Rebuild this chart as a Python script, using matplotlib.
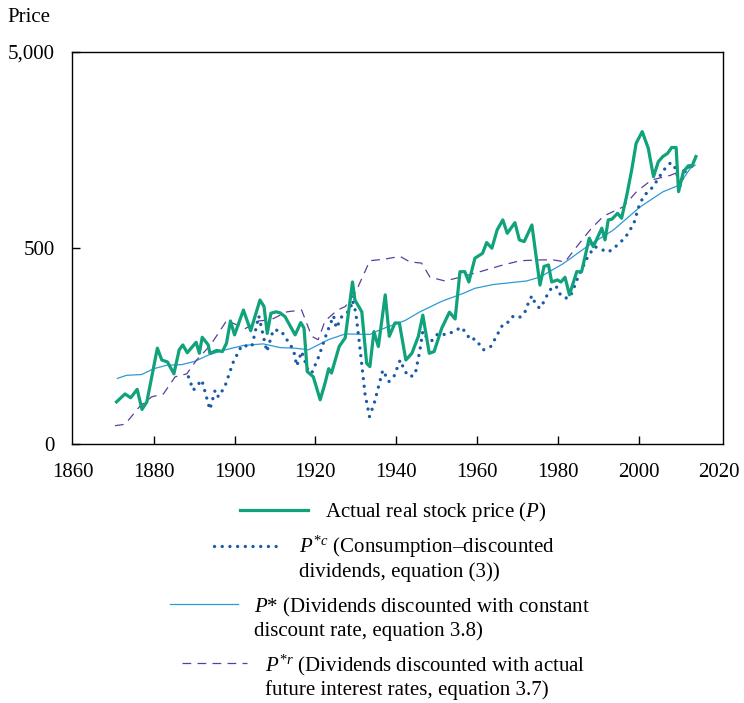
import numpy as np
import matplotlib
matplotlib.use("Agg")
import matplotlib.pyplot as plt
from matplotlib.lines import Line2D

plt.rcParams['font.family'] = ['Liberation Serif', 'DejaVu Serif']
plt.rcParams['mathtext.fontset'] = 'custom'
plt.rcParams['mathtext.rm'] = 'Liberation Serif'
plt.rcParams['mathtext.it'] = 'Liberation Serif:italic'

# actual real stock price P
p_year = [1870.8, 1872.9, 1874.3, 1875.9, 1877.1, 1878.3, 1880.9, 1882.0, 1883.4, 1885.0,
          1886.3, 1887.2, 1888.3, 1890.5, 1891.3, 1892.0, 1893.5, 1893.9, 1895.6, 1897.0,
          1898.0, 1899.0, 1900.0, 1902.2, 1904.0, 1906.3, 1907.3, 1908.1, 1909.0, 1910.3,
          1911.3, 1912.5, 1915.0, 1916.4, 1917.2, 1918.0, 1919.5, 1921.2, 1922.4, 1923.3,
          1924.0, 1925.9, 1927.4, 1929.2, 1929.8, 1931.5, 1932.7, 1933.5, 1934.5, 1935.6,
          1937.3, 1938.3, 1939.7, 1940.8, 1942.4, 1943.9, 1945.5, 1946.6, 1948.2, 1949.4,
          1951.3, 1953.2, 1954.6, 1955.8, 1957.0, 1958.0, 1959.5, 1961.4, 1962.4, 1963.7,
          1965.0, 1966.4, 1967.5, 1969.4, 1970.5, 1971.7, 1973.6, 1975.6, 1976.6, 1977.7,
          1978.5, 1979.9, 1980.8, 1981.8, 1982.9, 1984.7, 1985.9, 1987.8, 1988.8, 1990.9,
          1991.7, 1992.5, 1993.4, 1994.8, 1995.8, 1997.1, 1998.3, 1999.4, 2000.9, 2002.4,
          2003.7, 2004.9, 2006.0, 2007.2, 2008.2, 2009.3, 2009.9, 2011.1, 2012.3, 2013.2,
          2014.2]
p_val = [82, 90, 86, 95, 75, 82, 154, 134, 131, 114,
         151, 160, 146, 165, 145, 175, 160, 145, 150, 148,
         163, 212, 180, 241, 189, 271, 251, 183, 232, 236,
         233, 223, 180, 208, 195, 117, 110, 84, 102, 121,
         115, 157, 174, 335, 271, 236, 129, 124, 187, 157,
         288, 177, 207, 207, 134, 145, 177, 227, 145, 148,
         195, 235, 217, 378, 378, 335, 443, 469, 532, 498,
         617, 694, 593, 672, 549, 538, 654, 323, 402, 409,
         335, 343, 335, 354, 288, 378, 378, 560, 507, 630,
         549, 694, 700, 750, 708, 930, 1247, 1706, 1956, 1610,
         1153, 1375, 1460, 1517, 1624, 1624, 967, 1223, 1310, 1300,
         1460]

# P*c consumption-discounted dividends
pc_year = [1888.6, 1889.8, 1891.9, 1893.9, 1895.2, 1896.0, 1897.6, 1899.7, 1901.8, 1904.3,
           1906.0, 1908.0, 1909.6, 1911.5, 1914.6, 1915.4, 1916.6, 1918.3, 1919.1, 1920.7,
           1922.8, 1924.5, 1925.2, 1926.5, 1928.6, 1929.2, 1930.0, 1931.0, 1932.3, 1933.4,
           1934.6, 1936.7, 1938.2, 1939.5, 1941.0, 1942.2, 1943.4, 1944.7, 1945.9, 1946.6,
           1947.6, 1948.8, 1950.4, 1952.5, 1955.0, 1956.2, 1957.5, 1958.5, 1959.4, 1960.3,
           1961.6, 1963.4, 1964.5, 1965.5, 1966.5, 1968.0, 1969.0, 1970.7, 1971.9, 1972.7,
           1973.6, 1974.4, 1975.5, 1976.5, 1977.4, 1978.4, 1979.6, 1980.4, 1981.8, 1983.0,
           1983.9, 1984.5, 1985.3, 1986.2, 1987.0, 1988.0, 1989.2, 1991.1, 1992.5, 1993.9,
           1995.4, 1996.7, 1997.9, 1998.9, 2000.0, 2000.8, 2001.9, 2003.3, 2004.5, 2005.6,
           2006.8, 2008.0, 2009.3, 2010.1, 2010.7, 2011.5, 2012.8]
pc_val = [110, 94, 106, 75, 94, 87, 98, 131, 159, 157,
          225, 148, 191, 189, 151, 125, 148, 117, 115, 137,
          183, 225, 195, 222, 241, 270, 235, 157, 90, 69,
          81, 119, 104, 111, 134, 117, 110, 113, 151, 188,
          174, 168, 183, 180, 191, 197, 181, 169, 172, 164,
          151, 157, 172, 188, 205, 210, 225, 222, 236, 261,
          285, 261, 246, 264, 288, 311, 319, 293, 277, 280,
          308, 335, 364, 398, 434, 469, 507, 488, 476, 498,
          532, 564, 617, 672, 805, 877, 946, 1010, 1095, 1190,
          1290, 1360, 1260, 1010, 1109, 1223, 1310]

# P* constant discount rate
ps_year = [1871.0, 1873.3, 1877.0, 1880.0, 1883.2, 1887.0, 1890.2, 1893.5, 1897.2, 1902.2,
           1907.1, 1911.3, 1915.0, 1918.3, 1923.2, 1927.4, 1933.5, 1936.0, 1942.2, 1945.9,
           1951.3, 1956.6, 1959.5, 1964.0, 1972.3, 1975.6, 1981.4, 1987.2, 1993.8, 2000.4,
           2006.1, 2009.9, 2012.8, 2014.0]
ps_val = [108, 112, 113, 121, 126, 127, 132, 142, 150, 159,
          162, 155, 154, 151, 170, 182, 181, 191, 213, 236,
          267, 293, 311, 325, 339, 355, 416, 507, 617, 809,
          967, 1040, 1270, 1320]

# P*r actual future interest rates
pr_year = [1870.4, 1872.9, 1876.6, 1879.5, 1882.4, 1885.3, 1888.2, 1890.6, 1894.0, 1898.0,
           1900.0, 1902.5, 1906.0, 1909.0, 1913.0, 1916.6, 1919.1, 1920.7, 1922.4, 1925.5,
           1927.4, 1930.0, 1931.0, 1933.5, 1936.8, 1941.0, 1943.4, 1946.3, 1948.4, 1952.1,
           1955.8, 1960.8, 1965.7, 1970.7, 1975.6, 1978.9, 1981.8, 1984.7, 1988.0, 1991.3,
           1996.2, 1999.5, 2003.2, 2007.8, 2012.9, 2014.0]
pr_val = [62, 63, 78, 87, 90, 110, 114, 134, 159, 212,
          205, 193, 212, 215, 236, 241, 177, 170, 212, 241,
          251, 297, 331, 430, 437, 452, 424, 418, 354, 339,
          354, 378, 405, 430, 434, 434, 424, 507, 617, 725,
          809, 967, 1109, 1170, 1290, 1300]

green = '#10a27a'
dark_blue = '#1b5aa6'
light_blue = '#2d9ad6'
purple = '#5b3e9e'
dots = (0, (0.01, 2.3))

W, H = 744, 703
fig = plt.figure(figsize=(W / 100, H / 100), dpi=100)
ax = fig.add_axes([71.7 / W, 1 - 444 / H, (723 - 71.7) / W, (444 - 51.7) / H])

ax.plot(ps_year, ps_val, color=light_blue, lw=0.9)
ax.plot(pr_year, pr_val, color=purple, lw=0.9, linestyle=(0, (7, 5)))
ax.plot(pc_year, pc_val, color=dark_blue, lw=2.4, linestyle=dots,
        dash_capstyle='round')
ax.plot(p_year, p_val, color=green, lw=2.3)

ax.set_yscale('log')
ax.set_ylim(50, 5000)
ax.set_xlim(1859.7, 2020.9)
ax.set_yticks([50, 500, 5000])
ax.set_yticklabels(['0', '500', '5,000'])
ax.yaxis.set_minor_locator(matplotlib.ticker.NullLocator())
ax.set_xticks(range(1860, 2021, 20))
ax.tick_params(direction='in', length=6, width=1, labelsize=15, pad=12)
ax.tick_params(axis='x', pad=14)
xt = ax.xaxis.get_major_ticks()
xt[0].tick1line.set_visible(False)
xt[-1].tick1line.set_visible(False)
for s in ax.spines.values():
    s.set_linewidth(1.0)

fig.text(7 / W, 1 - 17 / H, 'Price', fontsize=15, va='center', ha='left')

# legend drawn below the plot
def handle(x0, x1, y, **kw):
    fig.add_artist(Line2D([x0 / W, x1 / W], [1 - y / H, 1 - y / H], **kw))

def label(x, y, s):
    fig.text(x / W, 1 - y / H, s, fontsize=15, va='baseline', ha='left')

handle(240, 308, 510, color=green, lw=2.3)
label(325, 516.7, 'Actual real stock price ($P$)')

handle(214, 282, 545.7, color=dark_blue, lw=2.4, linestyle=dots,
       dash_capstyle='round')
label(299, 553.3, '$P^{*c}$ (Consumption\u2013discounted')
label(299, 576.7, 'dividends, equation (3))')

handle(170, 238, 604, color=light_blue, lw=0.9)
label(254, 612.7, '$P$* (Dividends discounted with constant')
label(254, 635.7, 'discount rate, equation 3.8)')

handle(182, 247, 662.7, color=purple, lw=0.9, linestyle=(0, (7, 5)))
label(265, 671.7, '$P^{*r}$ (Dividends discounted with actual')
label(265, 695, 'future interest rates, equation 3.7)')

fig.savefig('out.png', dpi=100)
